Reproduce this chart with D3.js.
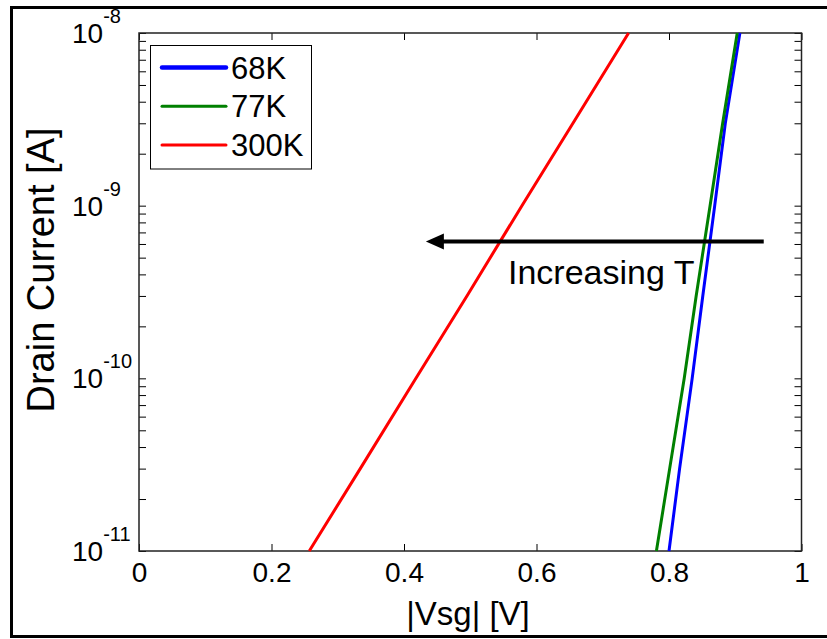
<!DOCTYPE html>
<html>
<head>
<meta charset="utf-8">
<script src="https://cdn.jsdelivr.net/npm/d3@7"></script>
<style>
body { margin: 0; background: #fff; }
text { font-family: "Liberation Sans", Arial, sans-serif; fill: #000; }
</style>
</head>
<body>
<div id="chart"></div>
<script>
// drain current grid (A) and |Vsg| (V)
var current = [1e-11, 3e-11, 1e-10, 3e-10, 1e-9, 3e-9, 1e-8];
var vsg68 = [0.800, 0.816, 0.835, 0.851, 0.869, 0.885, 0.907];
var vsg77 = [0.781, 0.801, 0.823, 0.841, 0.862, 0.881, 0.903];
var vsg300 = [0.257, 0.334, 0.418, 0.495, 0.578, 0.655, 0.739];
var seriesNames = ["68K", "77K", "300K"];
var seriesColors = ["#0000ff", "#008000", "#ff0000"];
var xTicks = [0, 0.2, 0.4, 0.6, 0.8, 1];
var xTickLabels = ["0", "0.2", "0.4", "0.6", "0.8", "1"];
var yTicks = [1e-11, 1e-10, 1e-9, 1e-8];
var yTickExp = ["-11", "-10", "-9", "-8"];

var w = 827, h = 639;
var pLeft = 139, pRight = 801.5, pTop = 33, pBottom = 551;

var series = [vsg68, vsg77, vsg300].map(function (vals, k) {
    return {
        name: seriesNames[k],
        color: seriesColors[k],
        values: vals.map(function (v, i) { return {v: v, i: current[i]}; })
    };
});

var xscale = d3.scaleLinear().domain([0, 1]).range([pLeft, pRight]);
var yscale = d3.scaleLog().domain([1e-11, 1e-8]).range([pBottom, pTop]);

var svg = d3.select("#chart").append("svg")
    .attr("width", w)
    .attr("height", h);

// outer frame
svg.append("rect")
    .attr("x", 11.5).attr("y", 7.5)
    .attr("width", 900).attr("height", 629)
    .attr("fill", "none").attr("stroke", "#000").attr("stroke-width", 3);

// minor ticks for the log axis
var yAll = [];
for (var e = -11; e < -8; e++) {
    for (var m = 1; m < 10; m++) yAll.push(m * Math.pow(10, e));
}
yAll.push(1e-8);

function styleAxis(g) {
    g.select(".domain").remove();
    g.selectAll(".tick line").attr("stroke", "#000").attr("stroke-width", 1);
}

svg.append("g")
    .attr("transform", "translate(0," + pBottom + ")")
    .call(d3.axisBottom(xscale).tickValues(xTicks).tickSizeInner(-7).tickSizeOuter(0).tickPadding(11)
        .tickFormat(function (d, i) { return xTickLabels[i]; }))
    .call(styleAxis)
    .selectAll("text").attr("font-size", 28).attr("font-family", "Liberation Sans, Arial, sans-serif");

svg.append("g")
    .attr("transform", "translate(0," + pTop + ")")
    .call(d3.axisTop(xscale).tickValues(xTicks).tickSizeInner(-7).tickSizeOuter(0).tickFormat(""))
    .call(styleAxis);

svg.append("g")
    .attr("transform", "translate(" + pLeft + ",0)")
    .call(d3.axisLeft(yscale).tickValues(yAll).tickSizeInner(-7).tickSizeOuter(0).tickFormat(""))
    .call(styleAxis);

svg.append("g")
    .attr("transform", "translate(" + pRight + ",0)")
    .call(d3.axisRight(yscale).tickValues(yAll).tickSizeInner(-7).tickSizeOuter(0).tickFormat(""))
    .call(styleAxis);

// y tick labels as 10^n
var ylab = svg.append("g").selectAll("text")
    .data(yTicks)
    .enter().append("text")
    .attr("x", 72)
    .attr("y", function (d) { return yscale(d) + 10; })
    .attr("font-size", 28);
ylab.append("tspan").text("10");
ylab.append("tspan")
    .attr("font-size", 20)
    .attr("dy", -20)
    .text(function (d, i) { return yTickExp[i]; });

// plot box
svg.append("rect")
    .attr("x", pLeft).attr("y", pTop)
    .attr("width", pRight - pLeft).attr("height", pBottom - pTop)
    .attr("fill", "none").attr("stroke", "#222").attr("stroke-width", 1.5);

var line = d3.line()
    .x(function (d) { return xscale(d.v); })
    .y(function (d) { return yscale(d.i); });

svg.selectAll(".curve")
    .data(series)
    .enter().append("path")
    .attr("class", "curve")
    .attr("d", function (d) { return line(d.values); })
    .attr("fill", "none")
    .attr("stroke", function (d) { return d.color; })
    .attr("stroke-width", 3);

// arrow annotation
var arrowFrom = 0.943, arrowTo = 0.433, arrowI = 6.2e-10;
var ay = yscale(arrowI);
svg.append("line")
    .attr("x1", xscale(arrowFrom)).attr("x2", xscale(arrowTo) + 10)
    .attr("y1", ay).attr("y2", ay)
    .attr("stroke", "#000").attr("stroke-width", 4);
svg.append("path")
    .attr("d", "M" + xscale(arrowTo) + "," + ay +
        "L" + (xscale(arrowTo) + 18) + "," + (ay - 8) +
        "L" + (xscale(arrowTo) + 18) + "," + (ay + 8) + "Z")
    .attr("fill", "#000");
svg.append("text")
    .attr("x", xscale(0.557))
    .attr("y", yscale(3.5e-10))
    .attr("font-size", 34)
    .text("Increasing T");

// axis titles
svg.append("text")
    .attr("x", 468).attr("y", 625)
    .attr("text-anchor", "middle")
    .attr("font-size", 33)
    .text("|Vsg| [V]");
svg.append("text")
    .attr("transform", "translate(54,270) rotate(-90)")
    .attr("text-anchor", "middle")
    .attr("font-size", 38)
    .text("Drain Current [A]");

// legend
var legend = svg.append("g");
legend.append("rect")
    .attr("x", 150.5).attr("y", 45.5)
    .attr("width", 161).attr("height", 123.5)
    .attr("fill", "#fff").attr("stroke", "#000").attr("stroke-width", 1);
var item = legend.selectAll(".item")
    .data(series)
    .enter().append("g")
    .attr("transform", function (d, i) { return "translate(0," + (67.5 + i * 38.7) + ")"; });
item.append("line")
    .attr("x1", 162).attr("x2", 226)
    .attr("stroke", function (d) { return d.color; })
    .attr("stroke-width", function (d, i) { return i === 0 ? 4.5 : 3; })
    .attr("stroke-linecap", "round");
item.append("text")
    .attr("x", 231).attr("y", 11)
    .attr("font-size", 31)
    .text(function (d) { return d.name; });
</script>
</body>
</html>
